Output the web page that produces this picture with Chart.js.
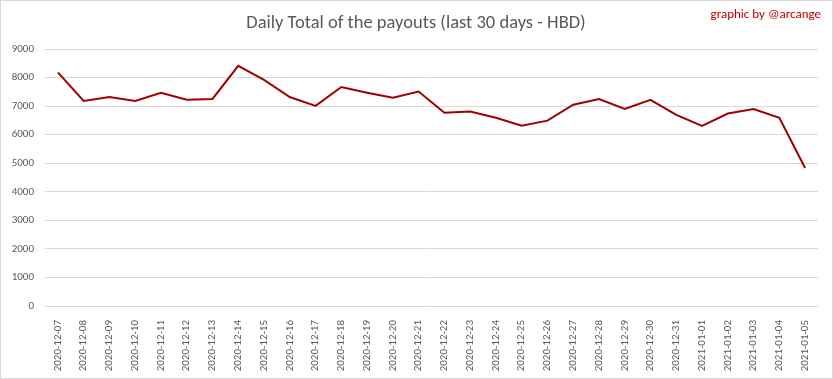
<!DOCTYPE html>
<html>
<head>
<meta charset="utf-8">
<script src="https://cdn.jsdelivr.net/npm/chart.js@4"></script>
<style>
  html, body { margin: 0; padding: 0; background: #fff; }
  #wrap { width: 833px; height: 379px; }
</style>
</head>
<body>
<div id="wrap"><canvas id="payoutChart" width="833" height="379"></canvas></div>
<script>
const chartTitle = 'Daily Total of the payouts (last 30 days - HBD)';
const creditText = 'graphic by @arcange';

const days = [
  '2020-12-07', '2020-12-08', '2020-12-09', '2020-12-10', '2020-12-11', '2020-12-12',
  '2020-12-13', '2020-12-14', '2020-12-15', '2020-12-16', '2020-12-17', '2020-12-18',
  '2020-12-19', '2020-12-20', '2020-12-21', '2020-12-22', '2020-12-23', '2020-12-24',
  '2020-12-25', '2020-12-26', '2020-12-27', '2020-12-28', '2020-12-29', '2020-12-30',
  '2020-12-31', '2021-01-01', '2021-01-02', '2021-01-03', '2021-01-04', '2021-01-05',
];
const payoutsHbd = [
  8180, 7180, 7320, 7180, 7470, 7220,
  7250, 8410, 7920, 7320, 7010, 7670,
  7470, 7290, 7510, 6770, 6810, 6590,
  6310, 6490, 7050, 7250, 6900, 7220,
  6690, 6310, 6740, 6900, 6590, 4830,
];
const yTicks = { min: 0, max: 9000, step: 1000 };

const fontFamily = 'Calibri, Carlito, Lato, "Open Sans", sans-serif';

const frame = {
  id: 'frame',
  beforeDraw(chart) {
    const { ctx, width, height } = chart;
    ctx.save();
    ctx.fillStyle = '#fff';
    ctx.fillRect(0, 0, width, height);
    ctx.strokeStyle = '#d9d9d9';
    ctx.lineWidth = 1;
    ctx.strokeRect(0.5, 0.5, width - 1, height - 1);
    ctx.restore();
  },
  afterDraw(chart) {
    const { ctx } = chart;
    ctx.save();
    ctx.textBaseline = 'middle';
    ctx.textAlign = 'center';
    ctx.fillStyle = '#595959';
    ctx.font = `18.5px ${fontFamily}`;
    ctx.fillText(chartTitle, 416, 23);
    ctx.textAlign = 'right';
    ctx.fillStyle = '#c00000';
    ctx.font = `13px ${fontFamily}`;
    ctx.fillText(creditText, 821, 15);
    ctx.restore();
  },
};

new Chart(document.getElementById('payoutChart'), {
  type: 'line',
  data: {
    labels: days,
    datasets: [{
      data: payoutsHbd,
      borderColor: '#a00000',
      borderWidth: 2,
      pointRadius: 0,
      tension: 0,
      fill: false,
    }],
  },
  options: {
    responsive: false,
    animation: false,
    layout: { padding: { top: 49, right: 15, left: 0, bottom: 0 } },
    plugins: { legend: { display: false }, title: { display: false }, tooltip: { enabled: false } },
    scales: {
      x: {
        offset: true,
        grid: { display: false },
        border: { display: false },
        ticks: {
          autoSkip: false,
          maxRotation: 90,
          minRotation: 90,
          color: '#595959',
          font: { family: fontFamily, size: 11 },
          padding: 6,
        },
        afterFit: (scale) => { scale.height = 73; },
      },
      y: {
        min: yTicks.min,
        max: yTicks.max,
        ticks: {
          stepSize: yTicks.step,
          color: '#595959',
          font: { family: fontFamily, size: 11 },
          padding: 11,
          callback: (v) => String(v),
        },
        grid: { color: '#d9d9d9', drawTicks: false },
        border: { display: false },
        afterFit: (scale) => { scale.width = 45; },
      },
    },
  },
  plugins: [frame],
});
</script>
</body>
</html>
